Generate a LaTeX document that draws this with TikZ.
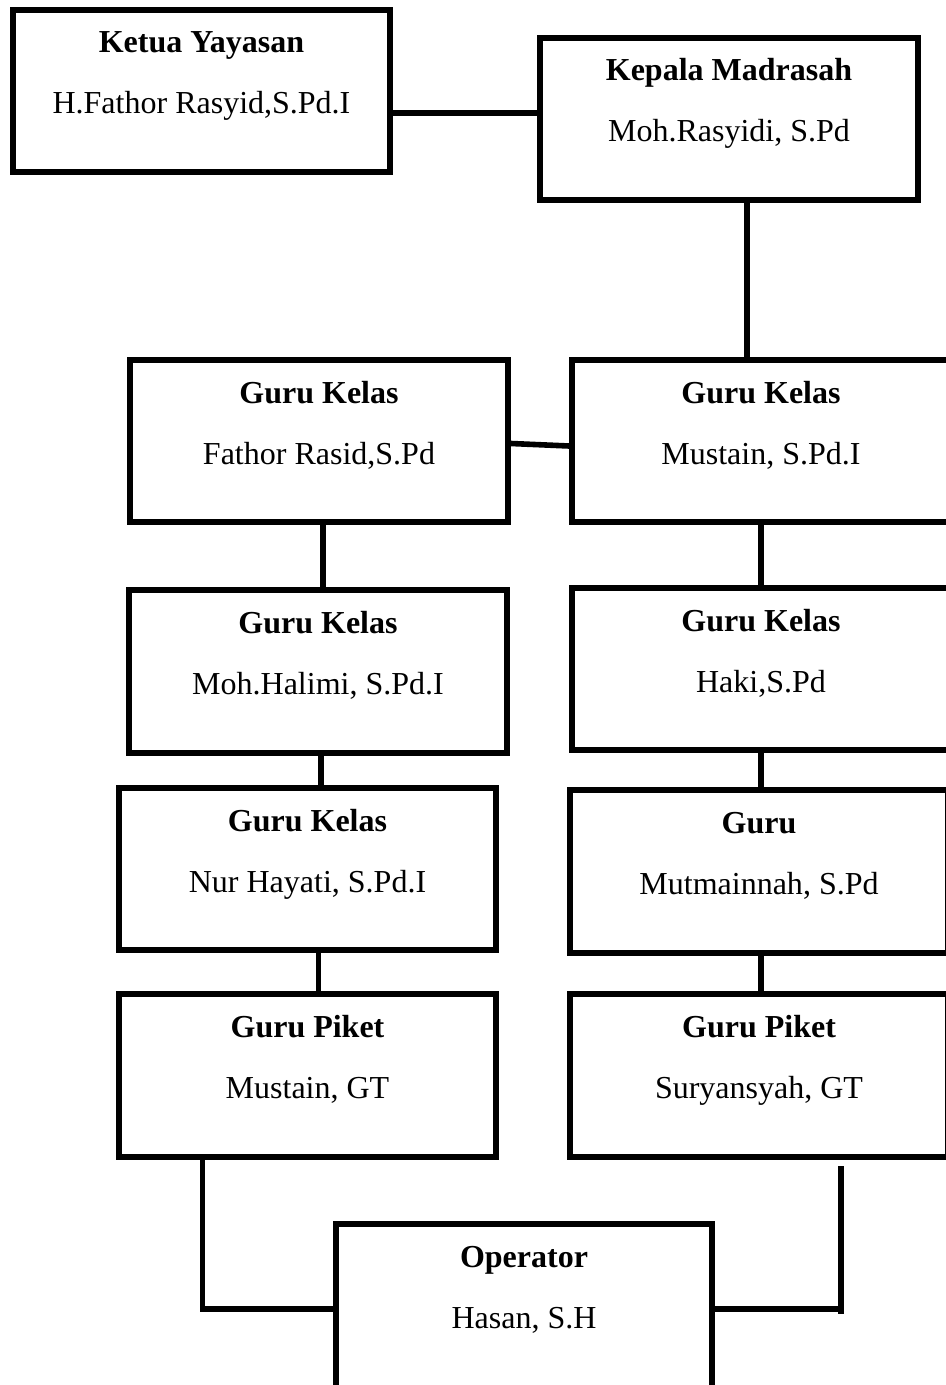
\documentclass[tikz,border=0pt]{standalone}
\usepackage{fontspec}
\setmainfont{Liberation Serif}
\usetikzlibrary{calc}
\tikzset{
  orgbox/.style={draw, line width=3pt, inner sep=0pt, minimum width=189pt, minimum height=81pt},
  ttl/.style={anchor=base, font=\fontsize{16pt}{19pt}\selectfont\bfseries, inner sep=0pt},
  nm/.style={anchor=base, font=\fontsize{16pt}{19pt}\selectfont, inner sep=0pt},
  conn/.style={line width=2.8pt}
}
\newcommand{\orgtext}[3]{%
  \node[ttl] (#1-t) at ($(#1.north)+(0,46)$) {#2};
  \node[nm] (#1-n) at ($(#1.north)+(0,107)$) {#3};}
\begin{document}
\begin{tikzpicture}[x=0.5pt,y=-0.5pt]
\useasboundingbox (0,0) rectangle (946,1385);
\clip (0,0) rectangle (946,1385);
% boxes
\node[orgbox, minimum width=188.5pt] (ky) at (201.5,91) {};
\node[orgbox] (km) at (729,119) {};
\node[orgbox] (r2l) at (319,441) {};
\node[orgbox] (r2r) at (761,441) {};
\node[orgbox, minimum height=81.5pt] (r3l) at (318,671.5) {};
\node[orgbox] (r3r) at (761,669) {};
\node[orgbox, minimum width=188.5pt] (r4l) at (307.5,869) {};
\node[orgbox, minimum height=81.5pt] (r4r) at (759,871.5) {};
\node[orgbox, minimum width=188.5pt, minimum height=81.5pt] (r5l) at (307.5,1075.5) {};
\node[orgbox, minimum height=81.5pt] (r5r) at (759,1075.5) {};
\node[orgbox, minimum width=188pt, minimum height=85pt] (op) at (524,1309) {};
% texts
\orgtext{ky}{Ketua Yayasan}{H.Fathor Rasyid,S.Pd.I}
\orgtext{km}{Kepala Madrasah}{Moh.Rasyidi, S.Pd}
\orgtext{r2l}{Guru Kelas}{Fathor Rasid,S.Pd}
\orgtext{r2r}{Guru Kelas}{Mustain, S.Pd.I}
\orgtext{r3l}{Guru Kelas}{Moh.Halimi, S.Pd.I}
\orgtext{r3r}{Guru Kelas}{Haki,S.Pd}
\orgtext{r4l}{Guru Kelas}{Nur Hayati, S.Pd.I}
\orgtext{r4r}{Guru}{Mutmainnah, S.Pd}
\orgtext{r5l}{Guru Piket}{Mustain, GT}
\orgtext{r5r}{Guru Piket}{Suryansyah, GT}
\orgtext{op}{Operator}{Hasan, S.H}
% connectors
\coordinate (c1) at ($(ky.east)+(0,22)$);
\draw[conn] (c1) -- (c1 -| km.west);
\coordinate (c2) at ($(km.south)+(18,0)$);
\draw[conn] (c2) -- (c2 |- r2r.north);
\draw[conn] ($(r2l.east)+(0,2.5)$) -- ($(r2r.west)+(0,5)$);
\coordinate (c4) at ($(r2l.south)+(4,0)$);
\draw[conn] (c4) -- (c4 |- r3l.north);
\draw[conn] (r2r.south) -- (r3r.north);
\coordinate (c6) at ($(r3l.south)+(3,0)$);
\draw[conn] (c6) -- (c6 |- r4l.north);
\draw[conn] (r3r.south) -- (r3r.south |- r4r.north);
\coordinate (c8) at ($(r4l.south)+(11,0)$);
\draw[conn] (c8) -- (c8 |- r5l.north);
\coordinate (c9) at ($(r4r.south)+(2,0)$);
\draw[conn] (c9) -- (c9 |- r5r.north);
\coordinate (c10) at ($(r5l.south)+(-105,0)$);
\draw[conn] (c10) |- (op.west);
\coordinate (c11) at ($(r5r.south)+(82,6)$);
\draw[conn] (c11) -- ($(c11 |- op.east)+(0,5)$);
\draw[conn] (op.east) -- (c11 |- op.east);
\end{tikzpicture}
\end{document}
